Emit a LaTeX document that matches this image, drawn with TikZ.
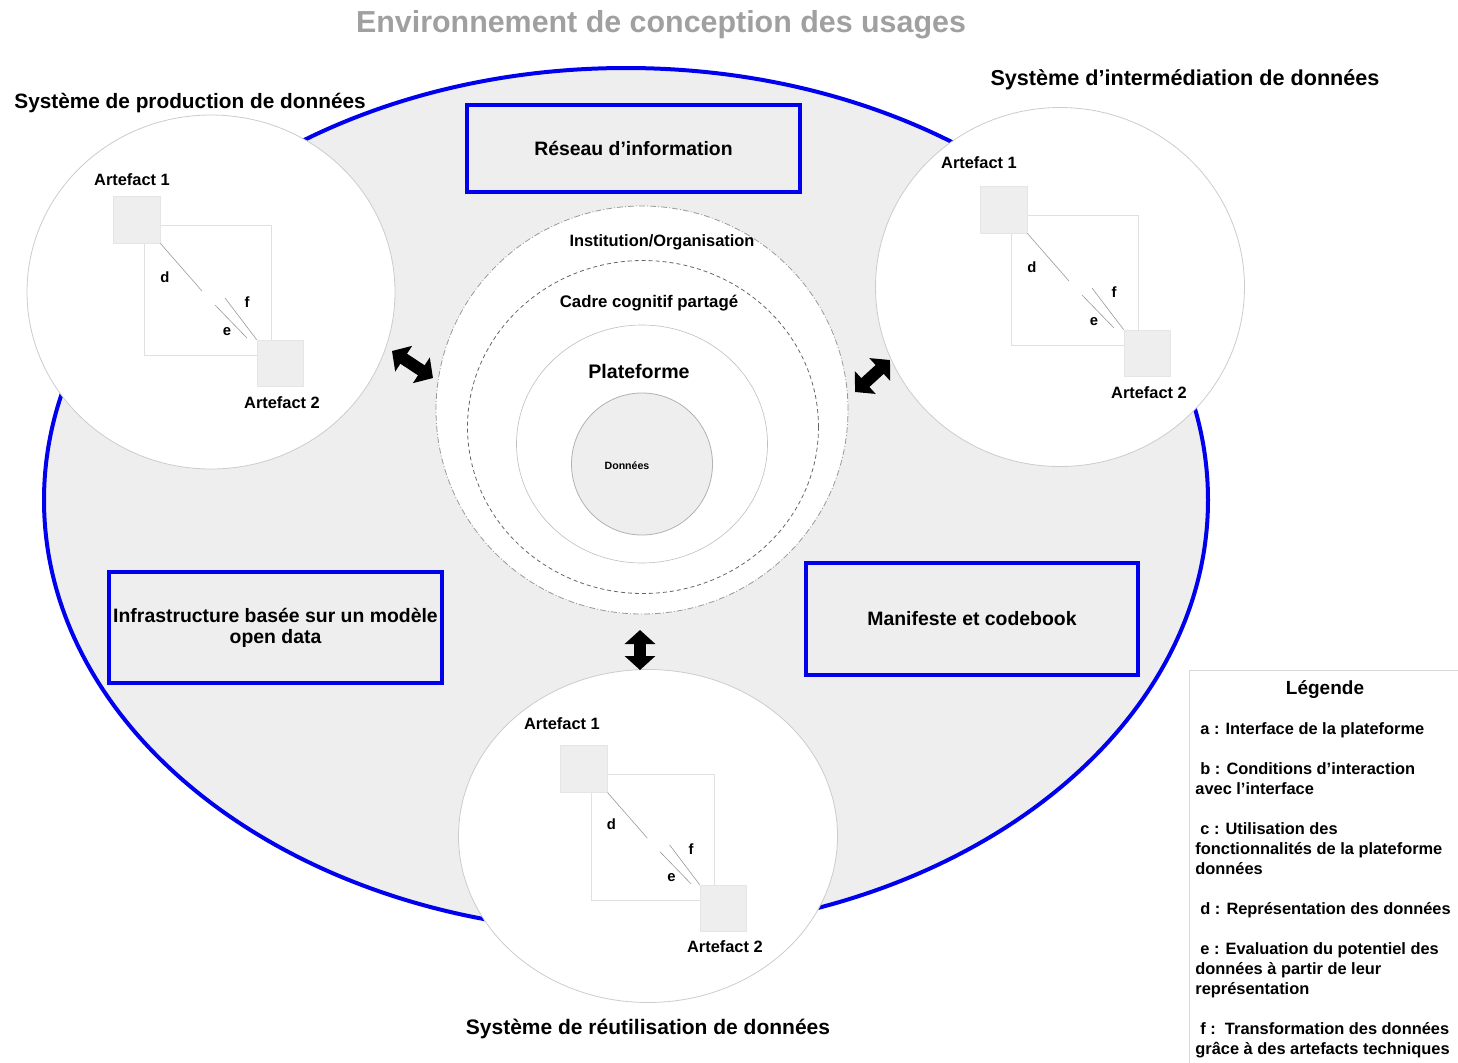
\documentclass[tikz,border=0pt]{standalone}
\usepackage{fontspec}
\setmainfont{Liberation Sans}
\usetikzlibrary{arrows.meta,shapes.geometric}
\definecolor{bg}{HTML}{EEEEEE}
\definecolor{bblue}{HTML}{0000EE}
\definecolor{titlegray}{HTML}{A0A0A0}
\newcommand\artgroup[5]{%
\begin{scope}[shift={(#2,#3)}]
\draw[bigsq] (31,29) rectangle (158,159);
\node[artbox, minimum size=23.5pt] (#1-a1) at (23.5,23.5) {};
\node[artbox, minimum size=23pt] (#1-a2) at (167,167) {};
\node[fs=8.2pt/9pt] (#1-l1) at (#4,#5) {Artefact 1};
\node[fs=8.2pt/9pt] (#1-l2) at (169,207) {Artefact 2};
\coordinate (#1-d) at (89,95);
\coordinate (#1-e1) at (102,109);
\coordinate (#1-e2) at (134,142);
\coordinate (#1-f1) at (112,102);
\draw[artlink] (#1-a1.south east) -- (#1-d);
\draw[artlink] (#1-e1) -- (#1-e2);
\draw[artlink] (#1-f1) -- (#1-a2.north west);
\node[fs=7.4pt/8pt] (#1-dl) at (52,81) {d};
\node[fs=7.4pt/8pt] (#1-fl) at (134,106) {f};
\node[fs=7.4pt/8pt] (#1-el) at (114,136) {e};
\end{scope}}
\begin{document}
\begin{tikzpicture}[x=0.5pt,y=-0.5pt,
  every node/.style={inner sep=0pt},
  fs/.style args={#1/#2}{font=\bfseries\fontsize{#1}{#2}\selectfont},
  sat/.style={ellipse, fill=white, draw=black!20, line width=0.4pt},
  bluebox/.style={draw=bblue, line width=2.2pt, align=center},
  artbox/.style={fill=bg, draw=black!10, line width=0.3pt},
  bigsq/.style={draw=black!12, line width=0.3pt},
  artlink/.style={draw=black!40, line width=0.3pt},
  dblarrow/.style={line width=6pt, {Triangle[width=15pt,length=7pt]}-{Triangle[width=15pt,length=7pt]}}]
\useasboundingbox (0,0) rectangle (1458,1062);
% main environment
\node[ellipse, fill=bg, draw=bblue, line width=2pt, minimum width=582pt, minimum height=432pt] (env) at (626,500) {};
% satellite systems
\node[sat, minimum width=184pt, minimum height=177pt] (prod) at (211,292) {};
\node[sat, minimum width=184.5pt, minimum height=179.5pt] (inter) at (1060,287) {};
\node[sat, minimum width=189.5pt, minimum height=166.5pt] (reut) at (648,836) {};
% central rings
\node[ellipse, fill=white, draw=black!40, line width=0.4pt, dash pattern=on 3pt off 1pt on 0.5pt off 1pt, minimum width=206pt, minimum height=204pt] (inst) at (642,410) {};
\node[ellipse, fill=white, draw=black!60, line width=0.4pt, dash pattern=on 2pt off 1.5pt, minimum width=175.5pt, minimum height=166.5pt] (cadre) at (643,427) {};
\node[ellipse, draw=black!25, line width=0.3pt, minimum width=125.5pt, minimum height=119pt] (plat) at (642,444) {};
\node[ellipse, fill=bg, draw=black!30, line width=0.4pt, minimum width=70.5pt, minimum height=71pt] (donn) at (642,464) {};
\node[fs=8.2pt/9pt] (instl) at (662,242) {Institution/Organisation};
\node[fs=8.4pt/9pt] (cadrel) at (649,303) {Cadre cognitif partagé};
\node[fs=9.8pt/11pt] (platl) at (639,371) {Plateforme};
\node[fs=5.3pt/6pt] (donnl) at (627,466) {Données};
% blue boxes
\node[bluebox, minimum width=166.5pt, minimum height=43.5pt, fs=9.7pt/10pt] (reseau) at (633.5,148.5) {Réseau d’information};
\node[bluebox, minimum width=166.5pt, minimum height=55.5pt, fs=9.7pt/10.5pt] (infra) at (275.5,627.5) {Infrastructure basée sur un modèle\\open data};
\node[bluebox, minimum width=166pt, minimum height=56pt, fs=9.7pt/10pt] (manif) at (972,619) {Manifeste et codebook};
% artefact groups
\artgroup{p}{113}{196}{19}{-16}
\artgroup{i}{980}{186}{-1}{-23}
\begin{scope}[shift={(561,746)}, scale=0.97]
\artgroup{r}{0}{0}{1}{-23}
\end{scope}
% double arrows
\coordinate (la1) at (392,351); \coordinate (la2) at (433,378);
\coordinate (ra1) at (855,392); \coordinate (ra2) at (890,360);
\coordinate (ba1) at (640,630); \coordinate (ba2) at (640,670);
\draw[dblarrow] (la1) -- (la2);
\draw[dblarrow] (ra1) -- (ra2);
\draw[dblarrow] (ba1) -- (ba2);
% titles
\node[fs=15.2pt/16pt, text=titlegray] (title) at (661,25) {Environnement de conception des usages};
\node[fs=10.4pt/11pt, anchor=west] (prodl) at (14,103) {Système de production de données};
\node[fs=10.8pt/11pt] (interl) at (1185,80) {Système d’intermédiation de données};
\node[fs=10.5pt/11pt] (reutl) at (648,1029) {Système de réutilisation de données};
% legend
\draw[draw=black!15, line width=0.4pt] (1189,1080) -- (1189,670) -- (1470,670);
\node[fs=9.5pt/10pt] (legt) at (1325,690) {Légende};
\node[fs=8.2pt/10pt, anchor=north west, align=left] (leg) at (1195,722) {%
\hspace*{2.5pt}a : Interface de la plateforme\\[10pt]
\hspace*{2.5pt}b : Conditions d’interaction\\
avec l’interface\\[10pt]
\hspace*{2.5pt}c : Utilisation des\\
fonctionnalités de la plateforme\\
données\\[10pt]
\hspace*{2.5pt}d : Représentation des données\\[10pt]
\hspace*{2.5pt}e : Evaluation du potentiel des\\
données à partir de leur\\
représentation\\[10pt]
\hspace*{2.5pt}f :~~Transformation des données\\
grâce à des artefacts techniques};
\end{tikzpicture}
\end{document}
